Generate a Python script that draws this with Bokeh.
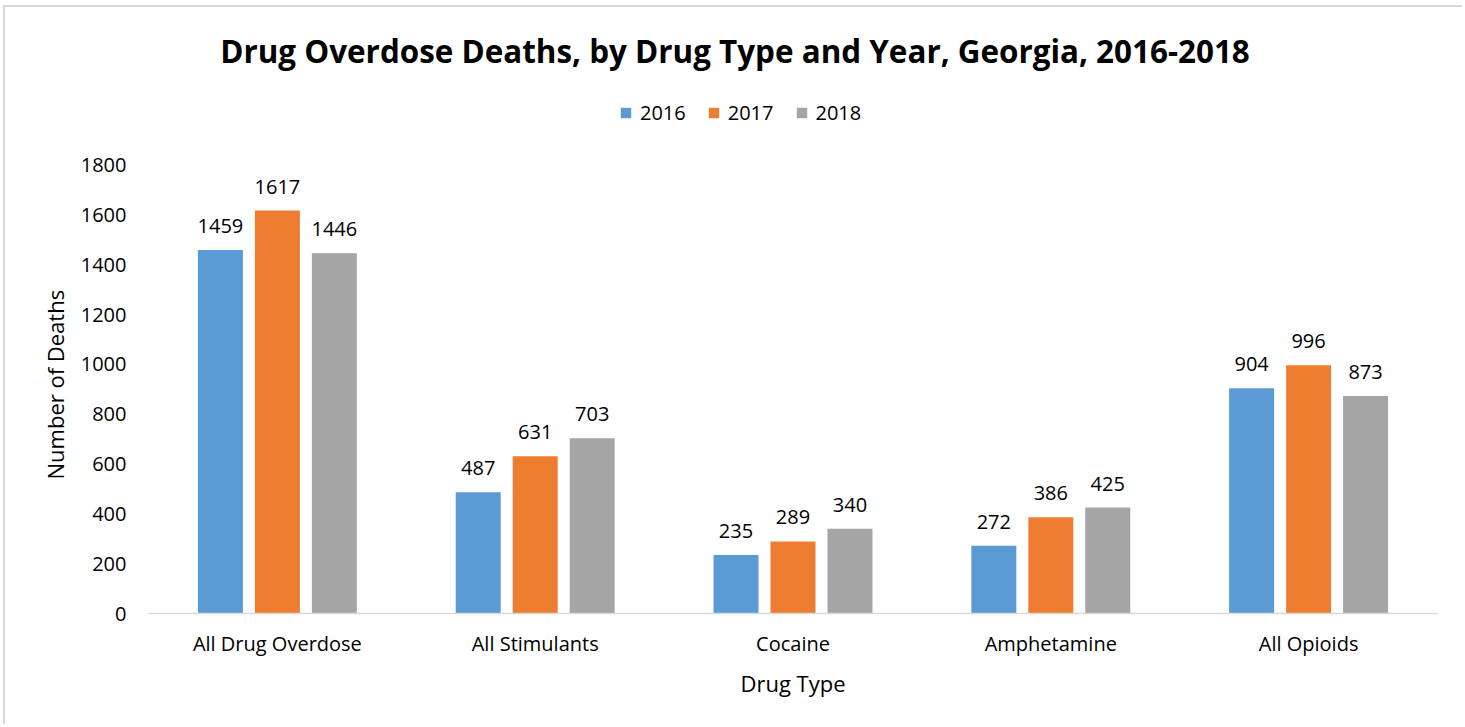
from bokeh.plotting import figure
from bokeh.models import (ColumnDataSource, FactorRange, Range1d, FixedTicker,
                          Legend, LegendItem, LabelSet, Label, Title)
from bokeh.transform import dodge
from bokeh.core.properties import value
from bokeh.embed import file_html
from bokeh.resources import INLINE

# Overdose deaths by drug type, Georgia
drug_types = ["All Drug Overdose", "All Stimulants", "Cocaine", "Amphetamine", "All Opioids"]
years = ["2016", "2017", "2018"]
deaths_2016 = [1459, 487, 235, 272, 904]
deaths_2017 = [1617, 631, 289, 386, 996]
deaths_2018 = [1446, 703, 340, 425, 873]
y_ticks = [0, 200, 400, 600, 800, 1000, 1200, 1400, 1600, 1800]

colors = ["#5B9BD5", "#ED7D31", "#A5A5A5"]
FONT = "Open Sans"

source = ColumnDataSource(data=dict(
    drug=drug_types,
    y2016=deaths_2016,
    y2017=deaths_2017,
    y2018=deaths_2018,
))

# pixel scale: 1800 deaths span ~448.5 px; frame extends up to hold title/legend
units_per_px = 1800 / 448.5
frame_h = 606
y_top = frame_h * units_per_px

p = figure(
    width=1459, height=719,
    x_range=FactorRange(*drug_types, range_padding=0),
    y_range=Range1d(0, y_top),
    output_backend="svg", toolbar_location=None,
    min_border_left=143, min_border_right=27,
    min_border_top=0, min_border_bottom=113,
)
p.styles = {"border-left": "2px solid #d9d9d9", "border-top": "2px solid #d9d9d9",
            "margin-left": "3px", "margin-top": "5px"}

p.outline_line_color = None
p.xgrid.grid_line_color = None
p.ygrid.grid_line_color = None
p.background_fill_color = "white"
p.border_fill_color = "white"

bar_w = 0.1745
step = 0.221
offsets = [-step, 0.0, step]
fields = ["y2016", "y2017", "y2018"]

renderers = []
for fld, off, col in zip(fields, offsets, colors):
    r = p.vbar(x=dodge("drug", off, range=p.x_range), top=fld, width=bar_w,
               source=source, fill_color=col, line_color=None)
    renderers.append(r)
    labels = LabelSet(x=dodge("drug", off, range=p.x_range), y=fld, text=fld,
                      source=source, text_align="center", text_baseline="alphabetic",
                      y_offset=17, text_font=value(FONT), text_font_size="20px",
                      text_color="#000000")
    p.add_layout(labels)

# axes
p.yaxis.ticker = FixedTicker(ticks=y_ticks)
p.yaxis.axis_line_color = None
p.yaxis.major_tick_line_color = None
p.yaxis.minor_tick_line_color = None
p.yaxis.major_tick_in = 0
p.yaxis.major_tick_out = 0
p.yaxis.major_label_standoff = 22
p.yaxis.major_label_text_font = FONT
p.yaxis.major_label_text_font_size = "20px"
p.yaxis.major_label_text_color = "#000000"

p.xaxis.axis_line_color = "#d9d9d9"
p.xaxis.axis_line_width = 1.5
p.xaxis.major_tick_line_color = None
p.xaxis.minor_tick_line_color = None
p.xaxis.major_tick_in = 0
p.xaxis.major_tick_out = 0
p.xaxis.major_label_standoff = 16
p.xaxis.major_label_text_font = FONT
p.xaxis.major_label_text_font_size = "20px"
p.xaxis.major_label_text_color = "#000000"
p.xaxis.axis_label = "Drug Type"
p.xaxis.axis_label_text_font = FONT
p.xaxis.axis_label_text_font_size = "22px"
p.xaxis.axis_label_text_font_style = "normal"
p.xaxis.axis_label_text_color = "#000000"
p.xaxis.axis_label_standoff = 8

# y axis title, placed along the 0-1800 band
p.add_layout(Title(text="Number of Deaths", align="left", offset=134, standoff=16,
                   text_font=FONT, text_font_size="22px", text_font_style="normal",
                   text_color="#000000"), "left")

# chart title
p.add_layout(Label(x=(735.5 - 149) / 257.8, y=(614 - 51) * units_per_px,
                   text="Drug Overdose Deaths, by Drug Type and Year, Georgia, 2016-2018",
                   text_align="center", text_baseline="alphabetic",
                   text_font=FONT, text_font_size="31.4px",
                   text_font_style="bold", text_color="#000000"))

legend = Legend(
    items=[LegendItem(label=yr, renderers=[r]) for yr, r in zip(years, renderers)],
    orientation="horizontal", location=(471, 487),
    padding=0, margin=0, spacing=21,
    glyph_width=13, glyph_height=13, label_height=13, label_standoff=8,
    label_text_font=FONT, label_text_font_size="20px", label_text_color="#000000",
    border_line_color=None, background_fill_alpha=0,
)
p.add_layout(legend, "center")

open("out.html", "w").write(file_html(p, INLINE))
